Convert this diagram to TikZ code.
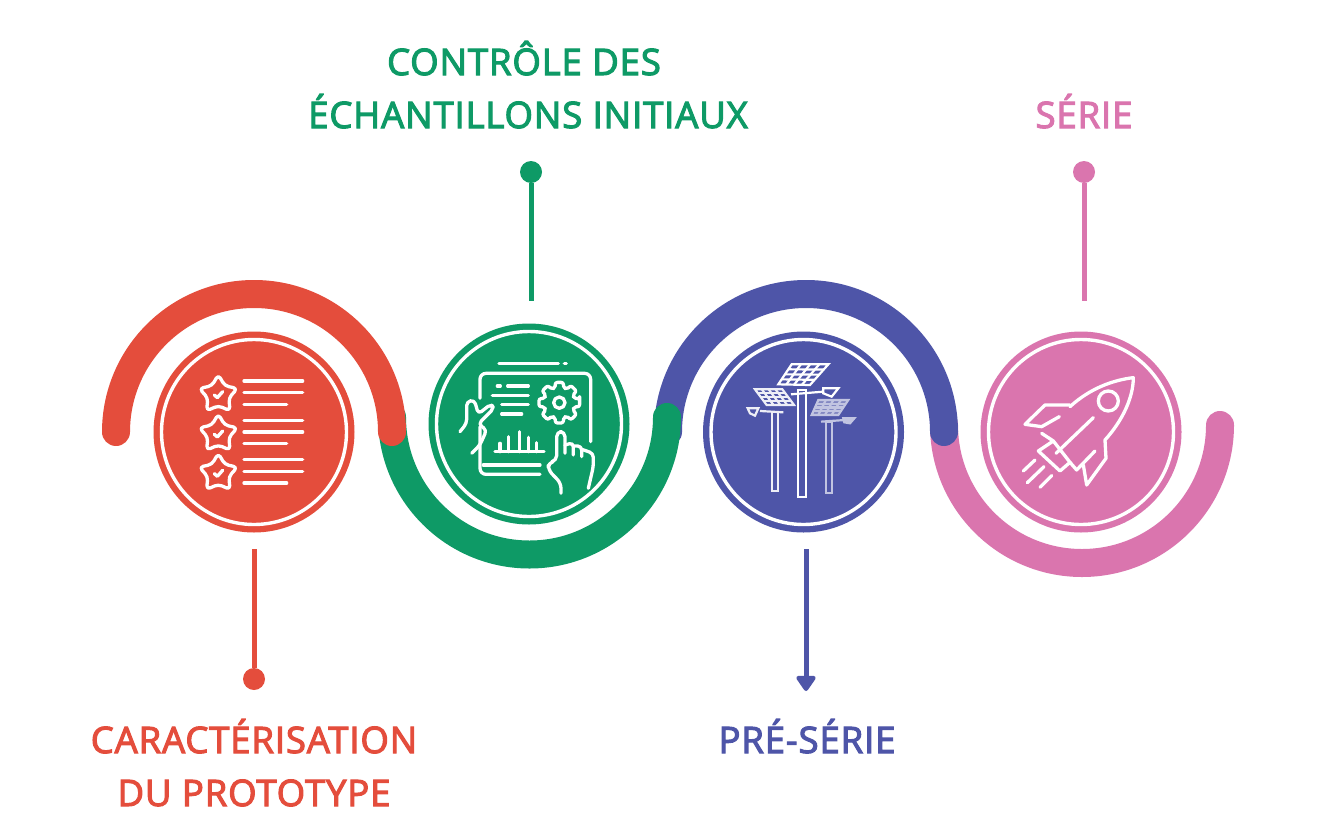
\documentclass[tikz,border=0pt]{standalone}
\usepackage{fontspec}
\setmainfont{Open Sans}
\newfontfamily\lblfont[FakeBold=3,LetterSpace=2.4]{Open Sans}
\usetikzlibrary{arrows.meta}
\definecolor{protored}{HTML}{E44D3C}
\definecolor{samplegreen}{HTML}{0E9A66}
\definecolor{preblue}{HTML}{4E55A8}
\definecolor{seriepink}{HTML}{DA75AE}
\tikzset{
  band/.style={line width=28pt,line cap=round},
  disc/.style={circle,minimum size=201pt,inner sep=0pt},
  ringline/.style={white,line width=3.4pt},
  stem/.style={line width=5pt},
  dot/.style={circle,minimum size=22pt,inner sep=0pt},
  lbl/.style={font=\lblfont\fontsize{36.5}{53}\selectfont,align=center,anchor=base},
  iconline/.style={white,line width=3.3pt,line cap=round,line join=round},
  zoomed/.style={x=0.3333pt,y=-0.3333pt}
}
\begin{document}
\begin{tikzpicture}[x=1pt,y=-1pt]
    \useasboundingbox (0,0) rectangle (1337,835);

    % Draw the four bands, last one first so each covers the next
    \draw[band,seriepink] (944,425) arc (180:0:138);
    \draw[band,preblue] (668,432) arc (180:360:138);
    \draw[band,samplegreen] (392,417) arc (180:0:137.5);
    \draw[band,protored] (116,432) arc (180:360:138);

    % Draw the discs
    \node[disc,fill=protored] (proto) at (254,432) {};
    \node[disc,fill=samplegreen] (sample) at (529,424) {};
    \node[disc,fill=preblue] (pre) at (803.5,432) {};
    \node[disc,fill=seriepink] (serie) at (1081,432) {};

    % Draw the white ring inside each disc
    \foreach \n in {proto,sample,pre,serie}
        \draw[ringline] (\n.center) circle (92.5);

    % Free ends of the stems
    \coordinate (protoend) at (254,549);
    \coordinate (sampleend) at (531,301);
    \coordinate (preend) at (806,549);
    \coordinate (preend2) at (806,691);
    \coordinate (serieend) at (1084,301);

    % Draw the stems with their dots
    \node[dot,fill=protored] (protodot) at (254,679) {};
    \node[dot,fill=samplegreen] (sampledot) at (531,172) {};
    \node[dot,fill=seriepink] (seriedot) at (1084,172) {};
    \draw[stem,protored] (protodot) -- (protoend);
    \draw[stem,samplegreen] (sampledot) -- (sampleend);
    \draw[stem,seriepink] (seriedot) -- (serieend);
    \draw[stem,preblue,-{Triangle[width=22pt,length=17pt,round]}] (preend) -- (preend2);

    % Add the labels
    \node[lbl,text=protored] (protolbl) at (254,806) {CARACTÉRISATION\\DU PROTOTYPE};
    \node[lbl,text=samplegreen] (samplelbl) at (528,128) {CONTRÔLE DES\hspace*{8pt}\\ÉCHANTILLONS INITIAUX};
    \node[lbl,text=preblue] (prelbl) at (807,753) {PRÉ-SÉRIE};
    \node[lbl,text=seriepink] (serielbl) at (1084,128) {SÉRIE};

    % Icon of the first disc: stars and text lines
    \begin{scope}[shift={(150,320)},zoomed]
        \foreach \yy in {0,118,236} {
            \draw[iconline,rounded corners=4pt,shift={(205,224+\yy)}] (-90:60)
                \foreach \a in {-54,-18,...,234} { -- ({\a}:{mod(round((\a+90)/36),2)==0 ? 60 : 33}) } -- cycle;
            \draw[iconline] (193,225+\yy) -- (202,233+\yy) -- (218,215+\yy);
            \draw[iconline] (282,183+\yy) -- (458,183+\yy);
            \draw[iconline] (282,218+\yy) -- (458,218+\yy);
            \draw[iconline] (282,253+\yy) -- (410,253+\yy);
        }
    \end{scope}

    % Icon of the second disc: tablet, gear, chart and hands
    \begin{scope}[shift={(425,320)},zoomed]
        \draw[iconline] (222,130) -- (400,130);
        \draw[iconline] (418,130) -- (424,130);
        \draw[iconline,rounded corners=6pt] (165,235) -- (165,160) -- (497,160) -- (497,365);
        \draw[iconline,rounded corners=6pt] (165,320) -- (165,463) -- (345,463);
        \draw[iconline] (175,435) -- (345,435);
        \draw[iconline] (217,198) -- (226,198);
        \draw[iconline] (248,198) -- (310,198);
        \draw[iconline] (202,226) -- (310,226);
        \draw[iconline] (230,254) -- (310,254);
        \draw[iconline] (230,282) -- (290,282);
        % gear
        \draw[iconline,rounded corners=2pt,shift={(403,248)}] (-11:62)
            \foreach \a in {0,45,...,315} { -- ({\a-11}:62) -- ({\a+11}:62) -- ({\a+16}:46) -- ({\a+29}:46) } -- cycle;
        \draw[iconline] (403,248) circle (17);
        % chart
        \draw[iconline] (210,395) -- (357,395);
        \draw[iconline] (225,370) -- (225,395);
        \draw[iconline] (250,350) -- (250,395);
        \draw[iconline] (283,335) -- (283,395);
        \draw[iconline] (310,352) -- (310,395);
        \draw[iconline] (335,368) -- (335,395);
        % left hand
        \draw[iconline,rounded corners=4pt] (105,335) -- (125,310) -- (125,245) -- (148,240) -- (160,282) -- (198,252) -- (207,265) -- (160,312) -- (185,330) -- (165,375) -- (140,400);
        % right hand
        \draw[iconline,rounded corners=5pt] (408,520) -- (408,490) -- (370,450) -- (370,428) -- (395,422) -- (395,335) -- (420,335) -- (420,400);
        \draw[iconline,rounded corners=4pt] (420,375) -- (445,368) -- (445,405);
        \draw[iconline,rounded corners=4pt] (445,378) -- (470,378) -- (470,410);
        \draw[iconline,rounded corners=4pt] (470,388) -- (505,400) -- (505,440) -- (490,505);
    \end{scope}

    % Icon of the third disc: three solar street lamps
    \begin{scope}[shift={(695,325)},zoomed,line width=2.2pt]
        % right lamp, paler than the others
        \draw[white!65!preblue] (392,290) rectangle (410,505);
        \draw[white!65!preblue,fill=white!30!preblue] (370,225) -- (460,225) -- (430,270) -- (350,270) -- cycle;
        \foreach \t in {0.25,0.5,0.75} {
            \draw[white!65!preblue] ({370+90*\t},225) -- ({350+80*\t},270);
            \draw[white!65!preblue] ({370-20*\t},{225+45*\t}) -- ({460-30*\t},{225+45*\t});
        }
        \draw[white!65!preblue] (378,290) -- (450,285);
        \draw[white!65!preblue,fill=white!65!preblue] (445,280) -- (478,280) -- (465,295) -- (448,292) -- cycle;
        % left lamp
        \draw[white!90!preblue] (232,262) rectangle (248,498);
        \draw[white!90!preblue] (180,193) -- (262,193) -- (297,240) -- (215,240) -- cycle;
        \foreach \t in {0.25,0.5,0.75} {
            \draw[white!90!preblue] ({180+82*\t},193) -- ({215+82*\t},240);
            \draw[white!90!preblue] ({180+35*\t},{193+47*\t}) -- ({262+35*\t},{193+47*\t});
        }
        \draw[white!90!preblue] (265,262) -- (195,258);
        \draw[white!90!preblue] (158,250) -- (190,250) -- (180,272) -- (165,265) -- cycle;
        % middle lamp
        \draw[white] (308,195) rectangle (332,515);
        \draw[white] (290,118) -- (400,118) -- (345,180) -- (250,178) -- cycle;
        \foreach \t in {0.25,0.5,0.75} {
            \draw[white] ({290+110*\t},118) -- ({250+95*\t},179);
            \draw[white] ({290-40*\t},{118+60*\t}) -- ({400-55*\t},{118+62*\t});
        }
        \draw[white] (288,208) -- (385,200);
        \draw[white] (385,190) -- (430,190) -- (410,215) -- (385,205) -- cycle;
    \end{scope}

    % Icon of the fourth disc: rocket
    \begin{scope}[shift={(970,325)},zoomed]
        \draw[iconline] (300,245) .. controls (360,190) and (430,165) .. (490,158) .. controls (490,220) and (455,290) .. (405,345) -- (408,400) -- (350,480) -- (340,420);
        \draw[iconline] (300,240) -- (225,240) -- (165,298) -- (215,305) -- (268,275);
        \draw[iconline] (215,325) -- (250,348) -- (205,378) -- (270,438) -- (300,412) -- (320,435) -- (375,378);
        \draw[iconline] (250,348) -- (300,412);
        \draw[iconline] (258,385) -- (370,278);
        \draw[iconline] (415,228) circle (30);
        \draw[iconline] (160,438) -- (195,405);
        \draw[iconline] (172,473) -- (222,425);
        \draw[iconline] (210,487) -- (245,452);
    \end{scope}

\end{tikzpicture}
\end{document}
